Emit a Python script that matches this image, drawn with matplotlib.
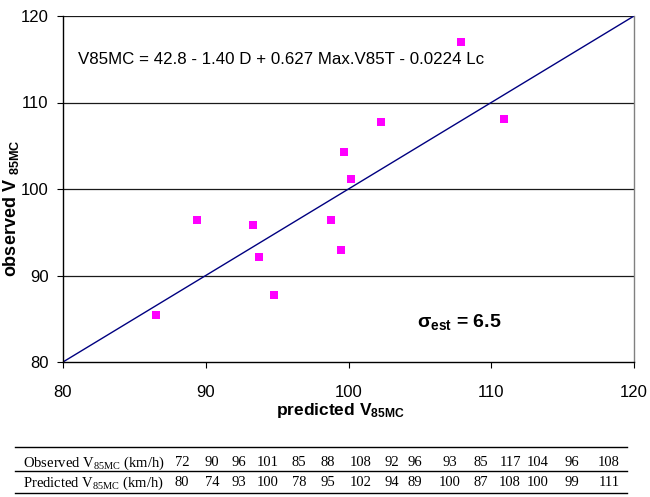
import matplotlib
matplotlib.use("Agg")
import matplotlib.pyplot as plt
from matplotlib.lines import Line2D

plt.rcParams["font.family"] = ["Liberation Sans", "DejaVu Sans"]
plt.rcParams["mathtext.fontset"] = "custom"
plt.rcParams["mathtext.rm"] = "Liberation Sans"
plt.rcParams["mathtext.it"] = "Liberation Sans:italic"
plt.rcParams["mathtext.bf"] = "Liberation Sans:bold"

# Scatter points: predicted vs observed 85th percentile speed (km/h)
predicted = [86.5, 89.4, 93.3, 93.7, 94.8, 98.8, 99.5, 99.7, 100.2, 102.3, 107.9, 110.9]
observed = [85.4, 96.4, 95.8, 92.1, 87.8, 96.4, 92.9, 104.3, 101.2, 107.7, 117.0, 108.1]

axis_ticks = [80, 90, 100, 110, 120]

# Table rows below the chart
table_observed = [72, 90, 96, 101, 85, 88, 108, 92, 96, 93, 85, 117, 104, 96, 108]
table_predicted = [80, 74, 93, 100, 78, 95, 102, 94, 89, 100, 87, 108, 100, 99, 111]

equation = "V85MC = 42.8 - 1.40 D + 0.627 Max.V85T - 0.0224 Lc"

W, H = 650, 497
fig = plt.figure(figsize=(W / 100, H / 100), dpi=100)
ax = fig.add_axes([63 / W, 1 - 362 / H, (634 - 63) / W, (362 - 16) / H])

ax.set_xlim(80, 120)
ax.set_ylim(80, 120)
ax.set_xticks(axis_ticks)
ax.set_yticks(axis_ticks)

for y in axis_ticks[1:]:
    ax.axhline(y, color="#1a1a1a", lw=0.9, zorder=1)

ax.plot([80, 120], [80, 120], color="#000080", lw=1.0, zorder=2)
ax.plot(predicted, observed, linestyle="none", marker="s", markersize=5.6,
        color="#FF00FF", markeredgewidth=0, zorder=3)

for side in ("left", "bottom"):
    ax.spines[side].set_color("black")
    ax.spines[side].set_linewidth(1.0)
ax.spines["top"].set_visible(False)
ax.spines["right"].set_color("#808080")
ax.spines["right"].set_linewidth(1.0)

ax.tick_params(axis="x", direction="out", length=4.5, width=0.8, pad=12, labelsize=12)
ax.tick_params(axis="y", direction="out", length=4.5, width=0.8, pad=6, labelsize=12)

ax.text(0.027, 0.873, equation, transform=ax.transAxes, fontsize=12.2,
        ha="left", va="center")
ax.text(0.62, 0.115, r"$\mathbf{\sigma_{est}}$ = 6.5", transform=ax.transAxes,
        fontsize=14, fontweight="bold", ha="left", va="center")

fig.text(340 / W, 1 - 411 / H, r"$\mathbf{predicted\ V_{85MC}}$", fontsize=12.5,
         ha="center", va="center")
fig.text(11 / W, 1 - 208 / H, r"$\mathbf{observed\ V\ _{85MC}}$", fontsize=13,
         ha="center", va="center", rotation=90)

# Data table drawn with rules
col_x = [182, 212, 239, 268, 299, 328, 361, 392, 415, 450, 481, 510, 538, 572, 609]
row_y = [463, 483]
labels = [r"Observed V$_{\mathregular{85MC}}$ (km/h)",
          r"Predicted V$_{\mathregular{85MC}}$ (km/h)"]
for label, vals, yy in zip(labels, [table_observed, table_predicted], row_y):
    fig.text(23 / W, 1 - yy / H, label, family="Liberation Serif", fontsize=10.5,
             ha="left", va="center")
    for cx, v in zip(col_x, vals):
        fig.text(cx / W, 1 - yy / H, str(v), family="Liberation Serif", fontsize=10.5,
                 ha="center", va="center")

for yy in (447, 471, 493):
    fig.add_artist(Line2D([15 / W, 627 / W], [1 - yy / H, 1 - yy / H],
                          color="black", lw=1.0, transform=fig.transFigure))

fig.savefig("out.png", dpi=100)
